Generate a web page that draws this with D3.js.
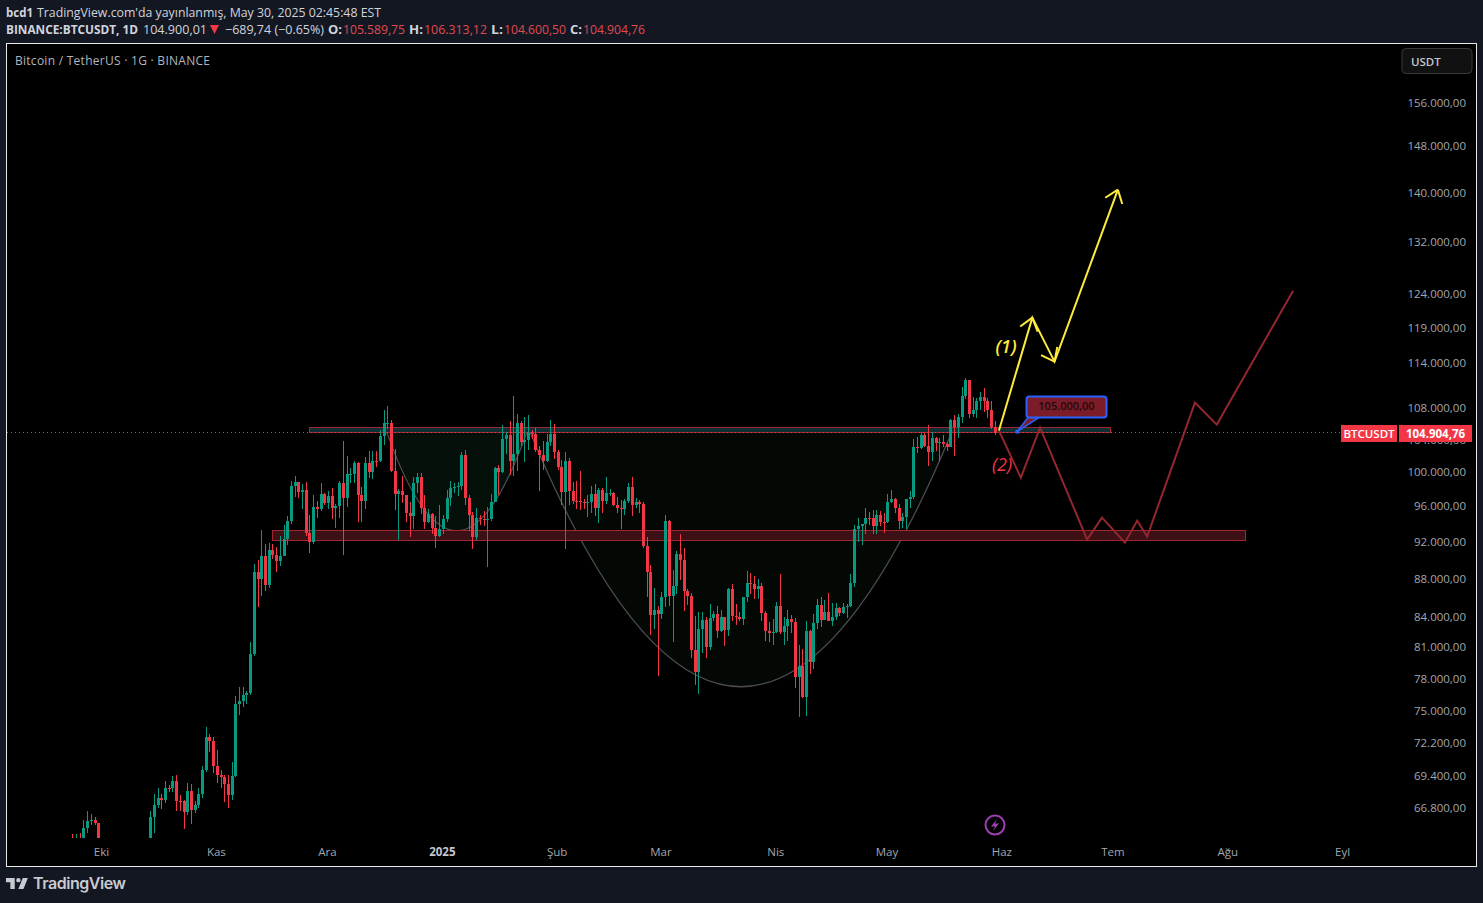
<!DOCTYPE html>
<html><head><meta charset="utf-8">
<style>html,body{margin:0;padding:0;background:#131722;overflow:hidden}svg{display:block}text{font-family:"Open Sans","Noto Sans",sans-serif}</style>
<script src="https://cdn.jsdelivr.net/npm/d3@7"></script></head><body><svg id="c" width="1483" height="903"></svg>
<script>
// Daily candles, 23 Sep 2024 to 30 May 2025; firstDay is the offset in days from 1 Oct 2024
const firstDay=-8;
const opens=[63578,63339,64260,63143,65173,65769,65858,65602,
63327,60805,60649,60752,62086,62058,62819,62224,62134,60582,60275,62445,63193,62851,66046,67041,67612,67399,68418,68362,69001,67367,67361,66432,68161,66642,67014,67929,69907,72720,72339,
70216,69482,69290,68741,67811,69359,75639,75905,76539,76677,80370,88647,87952,90375,87325,91056,90558,89845,90464,92310,94286,98317,98892,97672,97900,93010,91965,95863,95643,97460,
96407,97185,95840,96000,98768,96969,99740,99831,101109,97276,96593,101125,100000,101424,101420,104463,106058,106133,100204,97461,97805,97291,95186,94899,98717,99440,95791,94164,95163,93530,92643,
93429,94591,96984,98174,98236,98314,102078,96922,95043,92484,94701,94566,94488,94516,96534,100505,99987,104077,104556,101331,102260,106143,103706,103960,104819,104714,102682,102087,101332,103733,104733,
102429,100635,97700,101328,97763,96612,96554,96506,96444,96462,97430,95778,97870,96608,97500,97569,96118,95780,95671,96644,98305,96181,96551,96258,91552,88675,84250,84708,
84349,86064,94270,86221,87222,90623,89961,86742,86154,80734,78600,82862,83722,81066,83969,84343,82579,84075,82718,86854,84167,84043,83832,86054,87498,87392,86909,87232,84424,82648,82390,
82550,85158,82516,83102,83843,83504,78214,79235,76271,82573,79626,83404,85287,83684,84542,83668,84033,84924,84450,85063,85171,87517,93442,93691,93980,94638,94628,93750,95011,94256,
94172,96489,96887,95856,94277,94733,96834,97033,103063,102970,104630,103241,102482,104169,103539,103744,103489,103126,106454,105573,106849,109643,111696,107318,107761,109004,109434,108938,107781,105589.75];
const highs=[64745,64700,64817,65839,66498,66260,66076,65618,
64130,62390,61470,62484,62370,62975,64100,63200,62543,61320,63417,63480,63285,66500,67950,68424,67939,68969,68668,69400,69500,67836,67400,68850,68771,67317,68387,70270,73620,72985,72700,
71632,69919,69500,69480,70577,76400,77199,77199,76900,81500,89530,89940,93265,91790,91850,91779,91449,92594,93905,94902,98984,99588,98767,98564,98871,94973,97360,96650,98693,97499,
97836,98150,96300,99000,103900,102039,100550,101399,101215,98270,101895,102540,102650,102650,105250,107780,108353,106524,102800,98025,99540,97360,96538,99400,99963,99884,97294,95674,95225,94903,96150,
95000,97839,98976,98778,98813,102500,102724,97258,95349,95836,95050,95450,95940,97371,100681,100866,105865,104988,106422,109588,107240,106327,106850,107120,105286,105500,103222,103800,104782,106457,106012,
102783,101456,102500,101745,98826,99000,100137,96880,97323,98345,98559,98119,98116,99450,97972,97704,97046,96753,96855,98711,99475,96980,96670,96500,92541,89414,87000,85120,
86560,95000,94416,88911,91000,92810,91283,86897,86471,84123,84539,84500,84000,85309,84672,85100,84725,84075,87000,87443,85300,84539,86100,88765,88542,88292,88000,87515,84624,83534,83870,
85579,88500,83998,84720,84266,83960,81243,80867,83588,82700,84300,85905,86100,85799,86496,85500,85470,85094,85500,85320,88465,93888,94696,94000,95768,95301,95600,95598,95461,95200,
97437,97895,96901,96300,95199,96889,97732,104145,104361,104984,104964,105819,104997,104361,104192,104550,103707,106660,107108,107320,110797,111980,111800,109500,109300,110200,110718,109300,108910,106313.12];
const lows=[62700,62700,62670,62670,64819,65422,65432,62856,
60164,59981,59828,60459,61689,61798,62128,61860,60300,58946,60090,62250,62050,62457,64800,66750,66666,67177,68105,68100,66518,66571,65146,66254,65521,66360,66761,67618,69730,71436,69685,
68779,68430,67300,66800,67458,69298,74700,75400,75714,76492,80216,85072,86127,86668,87000,90056,88722,89376,90370,91619,94028,97122,97000,95734,92600,90791,91792,94650,95407,96095,
95693,94500,93578,94660,90500,95935,98772,98739,94150,94256,95676,99311,99205,100600,101234,103333,105321,100000,95587,92175,96398,94202,92520,93400,97600,95137,93355,94120,92881,91314,92500,
92868,94201,96000,97514,97200,97920,96132,93200,91220,92206,93840,93711,89256,94344,96500,97335,99950,102277,99651,99550,100119,103277,101262,102750,104106,102520,97777,100272,101256,103278,101560,
100279,96150,91231,96150,96252,95676,95620,95688,94712,95256,94850,94088,95205,96300,97223,96046,95205,93388,95000,96415,94871,95770,95207,91349,86050,82256,82786,78258,
83824,85050,85117,81500,86334,87836,84667,85218,80000,77459,76606,80500,79939,80797,83639,81900,82492,81134,82103,83600,83175,83631,83258,85541,86346,85860,85910,83585,81644,81565,81282,
82432,82320,81211,81659,82379,77153,74508,76239,74620,78464,78969,82792,83034,83678,83600,83111,83736,84122,84329,83949,85040,87076,91935,91657,92800,93880,92860,92800,93742,92910,
94111,96350,95170,93377,93514,93377,95825,96876,102315,102821,103121,100718,101400,102602,101383,103100,102612,103105,102000,104200,106100,109285,106800,106900,106800,107800,107548,106812,105322,104600.5];
const closes=[63339,64260,63143,65173,65769,65858,65602,63327,
60805,60649,60752,62086,62058,62819,62224,62134,60582,60275,62445,63193,62851,66046,67041,67612,67399,68418,68362,69001,67367,67361,66432,68161,66642,67014,67929,69907,72720,72339,70216,
69482,69290,68741,67811,69359,75639,75905,76539,76677,80370,88647,87952,90375,87325,91056,90558,89845,90464,92310,94286,98317,98892,97672,97900,93010,91965,95863,95643,97460,96407,
97185,95840,96000,98768,96969,99740,99831,101109,97276,96593,101125,100000,101424,101420,104463,106058,106133,100204,97461,97805,97291,95186,94899,98717,99440,95791,94164,95163,93530,92643,93429,
94591,96984,98174,98236,98314,102078,96922,95043,92484,94701,94566,94488,94516,96534,100505,99987,104077,104556,101331,102260,106143,103706,103960,104819,104714,102682,102087,101332,103733,104733,102429,
100635,97700,101328,97763,96612,96554,96506,96444,96462,97430,95778,97870,96608,97500,97569,96118,95780,95671,96644,98305,96181,96551,96258,91552,88675,84250,84708,84349,
86064,94270,86221,87222,90623,89961,86742,86154,80734,78600,82862,83722,81066,83969,84343,82579,84075,82718,86854,84167,84043,83832,86054,87498,87392,86909,87232,84424,82648,82390,82550,
85158,82516,83102,83843,83504,78214,79235,76271,82573,79626,83404,85287,83684,84542,83668,84033,84924,84450,85063,85171,87517,93442,93691,93980,94638,94628,93750,95011,94256,94172,
96489,96887,95856,94277,94733,96834,97033,103063,102970,104630,103241,102482,104169,103539,103744,103489,103126,106454,105573,106849,109643,111696,107318,107761,109004,109434,108938,107781,105589.75,104904.76];

// Axes
const priceTicks=[156000,148000,140000,132000,124000,119000,114000,108000,104000,100000,96000,92000,88000,84000,81000,78000,75000,72200,69400,66800];
const priceTickLabels=["156.000,00","148.000,00","140.000,00","132.000,00","124.000,00","119.000,00","114.000,00","108.000,00","104.000,00","100.000,00","96.000,00","92.000,00","88.000,00","84.000,00","81.000,00","78.000,00","75.000,00","72.200,00","69.400,00","66.800,00"];
const timeTickDays=[0,31,61,92,123,151,182,212,243,273,304,335];
const timeTickLabels=["Eki","Kas","Ara","2025","Şub","Mar","Nis","May","Haz","Tem","Ağu","Eyl"];

// Drawings, as [day, price]
const upperZone=[[55.9,105660],[272.1,105010]];
const lowerZone=[[45.9,93330],[308.5,92210]];
const bigArc=[[115.5,105010],[172.5,56850],[229.4,105010]];
const smallArc=[[76.9,104890],[95.8,82770],[114.7,105010]];
const yellowPath=[[242.1,105150],[251.1,120460],[257.1,114250],[274.2,140500]];
const redPath=[[242.1,105150],[248,99360],[253.2,105530],[265.9,92220],[269.9,94690],[276.1,91890],[279.4,94350],[282.1,92560],[295,108750],[300.9,105910],[321.5,124430]];
const calloutAnchor=[247,105010];
const lastPrice=104904.76;

const x=d3.scaleLinear().domain([0,243]).range([102,1002.3]);
const y=d3.scaleLog().domain([66800,156000]).range([807.7,102.7]);
const svg=d3.select("#c");
const GREEN="#089981",RED="#f23645";

svg.append("rect").attr("x",6.5).attr("y",43.5).attr("width",1470).attr("height",823).attr("fill","#000").attr("stroke","#e8e8e8").attr("stroke-width",1);
svg.append("defs").append("clipPath").attr("id","plot").append("rect").attr("x",7).attr("y",44).attr("width",1332).attr("height",794);
const pt=p=>[x(p[0]),y(p[1])];
const g=svg.append("g").attr("clip-path","url(#plot)");

// Arcs
function arcPath(a){const [p0,c,p2]=a.map(pt);return `M${p0}Q${c} ${p2}`;}
[[bigArc,"#030805"],[smallArc,"#06100a"]].forEach(([a,f])=>{
 g.append("path").attr("d",arcPath(a)+"Z").attr("fill",f).attr("stroke","none");
 g.append("path").attr("d",arcPath(a)).attr("fill","none").attr("stroke","#4c4c4c").attr("stroke-width",1.3);
});
// Zones
function zone(z,fill,stroke){
 const [a,b]=z.map(pt);
 g.append("rect").attr("x",Math.round(a[0])+.5).attr("y",Math.round(a[1])+.5).attr("width",Math.round(b[0]-a[0])).attr("height",Math.round(b[1]-a[1]))
  .attr("fill",fill).attr("stroke",stroke).attr("stroke-width",1);
}
svg.append("line").attr("x1",7).attr("x2",1340).attr("y1",Math.floor(y(lastPrice))+.5).attr("y2",Math.floor(y(lastPrice))+.5).attr("stroke",RED).attr("stroke-dasharray","1 3").attr("stroke-width",1);
zone(upperZone,"#0e3034","#a02630");
zone(lowerZone,"#3c1014","#a02630");

// Candles
const days=closes.map((_,i)=>firstDay+i);
const cg=g.append("g").attr("shape-rendering","crispEdges");
days.forEach((d,i)=>{
 const col=closes[i]>=opens[i]?GREEN:RED;
 const cx=Math.round(x(d));
 cg.append("line").attr("x1",cx+.5).attr("x2",cx+.5).attr("y1",y(highs[i])).attr("y2",y(lows[i])).attr("stroke",col);
 const t=y(Math.max(opens[i],closes[i])),b=y(Math.min(opens[i],closes[i]));
 cg.append("rect").attr("x",cx-1).attr("width",3).attr("y",Math.round(t)).attr("height",Math.max(1,Math.round(b)-Math.round(t))).attr("fill",col);
});

// Projection lines
const line=d3.line().x(d=>x(d[0])).y(d=>y(d[1]));
svg.append("path").datum(redPath).attr("d",line).attr("fill","none").attr("stroke","#94262f").attr("stroke-width",2);
const YEL="#ffeb3b";
svg.append("path").datum(yellowPath).attr("d",line).attr("fill","none").attr("stroke",YEL).attr("stroke-width",2);
for(let i=1;i<yellowPath.length;i++){
 const [ax,ay]=pt(yellowPath[i-1]),[bx,by]=pt(yellowPath[i]);
 const ang=Math.atan2(by-ay,bx-ax);
 for(const s of [-1,1]){
  const th=ang+Math.PI+s*0.65;
  svg.append("line").attr("x1",bx).attr("y1",by).attr("x2",bx+15*Math.cos(th)).attr("y2",by+15*Math.sin(th)).attr("stroke",YEL).attr("stroke-width",2);
 }
}
svg.append("text").attr("x",1006).attr("y",353).attr("text-anchor","middle").attr("font-size",18).attr("font-style","italic").attr("font-weight",600).attr("fill",YEL).text("(1)");
svg.append("text").attr("x",1002).attr("y",471).attr("text-anchor","middle").attr("font-size",18).attr("font-style","italic").attr("fill",RED).text("(2)");

// Callout
const [ax,ay]=pt(calloutAnchor);
svg.append("path").attr("d",`M${ax},${ay}L1028,417.5L1039,417.5Z`).attr("fill","#7b1c28").attr("stroke","#2962ff").attr("stroke-width",1.5);
svg.append("rect").attr("x",1026.5).attr("y",396.5).attr("width",80).attr("height",21).attr("rx",3).attr("fill","#7b1c28").attr("stroke","#2962ff").attr("stroke-width",2);
svg.append("circle").attr("cx",ax).attr("cy",ay).attr("r",2).attr("fill","#2962ff");
svg.append("text").attr("x",1066.5).attr("y",410).attr("text-anchor","middle").attr("font-size",11).attr("font-weight",600).attr("fill","#1f090d").text("105.000,00");

// Price axis
priceTicks.forEach((p,i)=>svg.append("text").attr("x",1466).attr("y",y(p)+4).attr("text-anchor","end").attr("font-size",11.5).attr("fill","#a3a6ad").text(priceTickLabels[i]));
// Time axis
timeTickDays.forEach((d,i)=>svg.append("text").attr("x",x(d)-.5).attr("y",855.5).attr("text-anchor","middle").attr("font-size",11.5).attr("font-weight",timeTickLabels[i]==="2025"?700:400).attr("fill",timeTickLabels[i]==="2025"?"#c4c7ce":"#a3a6ad").text(timeTickLabels[i]));

// Last price labels
const ly=433;
svg.append("rect").attr("x",1341).attr("y",ly-8).attr("width",56).attr("height",17).attr("fill",RED);
svg.append("rect").attr("x",1399).attr("y",ly-8).attr("width",73).attr("height",17).attr("fill",RED);
svg.append("text").attr("x",1369).attr("y",ly+4.5).attr("text-anchor","middle").attr("font-size",11.5).attr("font-weight",600).attr("fill","#fff").text("BTCUSDT");
svg.append("text").attr("x",1435.5).attr("y",ly+4.5).attr("text-anchor","middle").attr("font-size",11.5).attr("font-weight",700).attr("fill","#fff").text("104.904,76");

// USDT button
svg.append("rect").attr("x",1402).attr("y",48.5).attr("width",70).attr("height",25).attr("rx",4).attr("fill","#111").attr("stroke","#3a3a3c");
svg.append("text").attr("x",1411).attr("y",66).attr("font-size",11.5).attr("font-weight",600).attr("fill","#c4c7ce").text("USDT");

// Title
svg.append("text").attr("x",15).attr("y",64.5).attr("font-size",12).attr("fill","#b2b5be").attr("textLength",195).text("Bitcoin / TetherUS · 1G · BINANCE");

// Header
const H="#d1d4dc",R="#e04a50";
const seg=(t,xx,yy,w,col,bold)=>svg.append("text").attr("x",xx).attr("y",yy).attr("font-size",12.5).attr("font-weight",bold?700:400).attr("fill",col).attr("textLength",w).attr("lengthAdjust","spacingAndGlyphs").text(t);
seg("bcd1",6,16.5,27,H,true);
seg("TradingView.com'da yayınlanmış, May 30, 2025 02:45:48 EST",37,16.5,344,H);
seg("BINANCE:BTCUSDT, 1D",6,34,132,H,true);
seg("104.900,01",143,34,64,H);
svg.append("path").attr("d","M210,25L219,25L214.5,34Z").attr("fill",RED);
seg("−689,74 (−0.65%)",225,34,99,H);
seg("O:",328,34,14,H,true);seg("105.589,75",343,34,62,R);
seg("H:",409,34,14,H,true);seg("106.313,12",424,34,63,R);
seg("L:",491,34,12,H,true);seg("104.600,50",504,34,62,R);
seg("C:",570,34,12,H,true);seg("104.904,76",583,34,62,R);

// Event icon
svg.append("circle").attr("cx",995).attr("cy",825).attr("r",9.5).attr("fill","none").attr("stroke","#9c3fb5").attr("stroke-width",2);
svg.append("path").attr("d","M997,819L991,826.5L995,826.5L993,831L999,823.5L995,823.5Z").attr("fill","#9c3fb5");

// Logo
svg.append("path").attr("transform","translate(4.5,873.6) scale(.73)").attr("d","M14 6H2v6h6v9h6V6zm12 15h-7l6-15h7l-6 15zm-7-9a3 3 0 1 0 0-6 3 3 0 0 0 0 6z").attr("fill","#c8cad0");
svg.append("text").attr("x",33).attr("y",889).attr("font-size",16).attr("font-weight",600).attr("style","font-family:Inter,sans-serif").attr("fill","#c8cad0").attr("textLength",93).text("TradingView");
</script></body></html>
